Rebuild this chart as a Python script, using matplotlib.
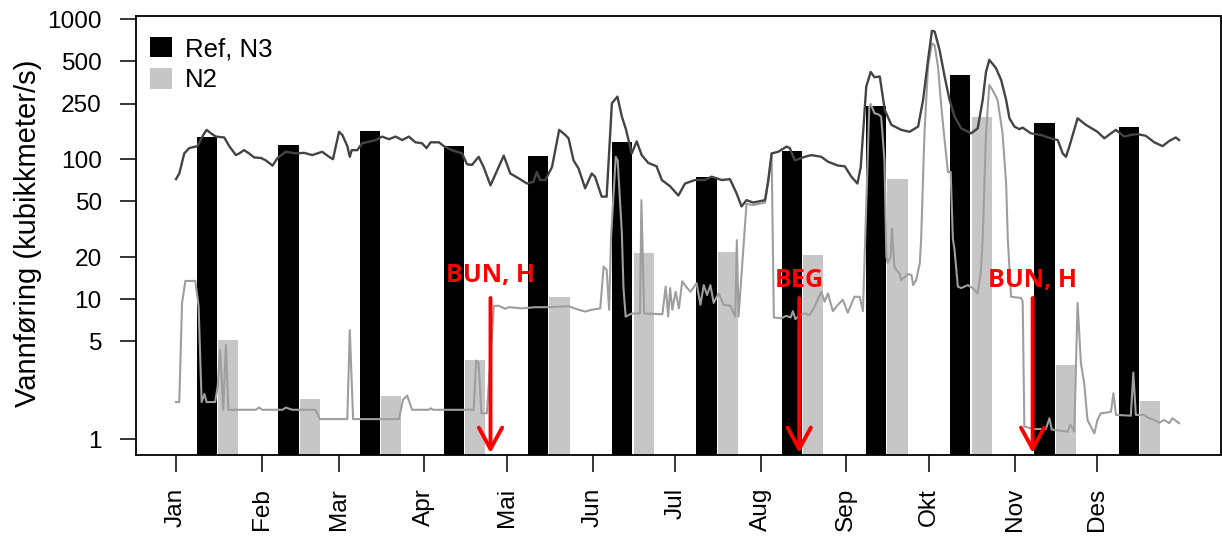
import numpy as np
import matplotlib
matplotlib.use("Agg")
import matplotlib.pyplot as plt
from matplotlib.patches import Patch

plt.rcParams["font.family"] = ["Liberation Sans", "DejaVu Sans"]

# ---------------- data ----------------
months = ["Jan", "Feb", "Mar", "Apr", "Mai", "Jun", "Jul", "Aug", "Sep", "Okt", "Nov", "Des"]
month_start = [1, 32, 60, 91, 121, 152, 182, 213, 244, 274, 305, 335, 366]

ref_n3_monthly = [143, 126, 159, 124, 106, 132, 75, 115, 240, 398, 181, 170]
n2_monthly = [5.04, 1.85, 1.94, 3.55, 10.2, 21.1, 21.8, 20.7, 72.3, 200, 3.27, 1.76]

ref_days = [1, 2.2, 4, 5.8, 8.8, 10.9, 12.1, 13.7, 15.5, 18.5, 20.3, 22.7, 23.9, 25.7, 27.5,
            29.3, 31.8, 33.6, 36, 37.8, 40.8, 44.4, 47.4, 50.4, 54, 56.5, 57.9, 60.1, 61.3,
            63.1, 64, 64.7, 66.7, 68.5, 73.4, 75.7, 78.2, 80.6, 83, 85.4, 87.8, 90.2, 91.8,
            93.3, 96.3, 98.1, 101, 104.7, 106.5, 108.3, 110.7, 112.5, 115, 118, 119.8, 122.2,
            125.2, 128.2, 130.6, 131.8, 133, 134.9, 137.3, 139.9, 142.1, 143.3, 145.1, 146.9,
            149.3, 151.7, 152.9, 155.3, 157.1, 159, 161, 162.6, 164, 166.2, 168, 169.8, 172.2,
            175.2, 177.1, 180.1, 183.1, 185.5, 189.1, 192.7, 195.1, 198.8, 201.8, 204.2, 206,
            207.8, 210.2, 214.5, 215.7, 216.9, 219.3, 222.3, 223.5, 225.3, 228.9, 231.3, 234.9,
            237.3, 241, 243.4, 245.8, 248, 249.2, 251.2, 252.8, 254.2, 256.1, 257.9, 260.3,
            263.9, 266.9, 270, 271.8, 273.6, 275, 276, 277.8, 279.6, 281.4, 283.2, 285.6,
            289.2, 291.6, 293.4, 294.6, 295.8, 298.2, 300.1, 301.9, 303.1, 304.9, 306.7, 307.9,
            310.9, 314.5, 318.1, 320.6, 322.4, 323.6, 324.8, 327.8, 330.8, 335, 337.5, 339.9,
            341.7, 344.7, 347.1, 349.5, 352.5, 355.6, 358.6, 361, 363.4, 364.6]
ref_flow = [72, 79, 110, 120, 124, 149, 162, 153, 145, 143, 124, 107, 110, 116, 110,
            103, 102, 98, 90, 102, 113, 110, 111, 107, 113, 104, 100, 157, 149,
            124, 104, 116, 116, 130, 137, 145, 139, 145, 137, 145, 132, 130, 120,
            132, 132, 124, 116, 110, 92, 91, 104, 88, 65, 88, 106, 79,
            73, 67, 69, 81, 71, 71, 88, 162, 149, 141, 98, 86,
            62, 79, 75, 54, 54, 251, 280, 202, 166, 110, 134, 107, 94,
            89, 71, 64, 55, 67, 71, 71, 75, 71, 72, 57, 46,
            51, 49, 51, 71, 110, 113, 123, 120, 98, 104, 107, 104,
            96, 90, 89, 75, 67, 88, 330, 420, 385, 390, 225, 176,
            162, 157, 171, 265, 513, 826, 816, 600, 390, 265, 202, 166,
            153, 166, 265, 420, 513, 448, 368, 265, 196, 171, 164, 168,
            153, 149, 141, 137, 110, 104, 123, 196, 176, 157, 141, 153,
            162, 145, 149, 151, 147, 132, 124, 135, 143, 137]

n2_days = [1, 2.2, 3.2, 4.4, 8, 9.2, 10.3, 11.3, 12.1, 15.2, 16.1, 17, 18.1, 19.1, 20,
           29.9, 31.1, 32.3, 39.6, 40.8, 43.2, 51.6, 53.1, 63.1, 64, 65.2, 81.8, 83.3, 84.8,
           86.6, 92.6, 93.3, 94.1, 108.9, 109.8, 110.7, 111.7, 113.7, 116.2, 118, 120.4, 121.6,
           126.4, 131.2, 136.1, 143.3, 146.9, 149.3, 151.7, 154.8, 156, 157.1, 158, 158.7,
           160.4, 161.1, 162.6, 163.2, 164, 166.2, 169.2, 169.7, 170.7, 177.3, 178.5, 179.4,
           180.1, 180.9, 182.1, 183.3, 184.5, 186.3, 187.5, 189.7, 191.1, 192.3, 193.5, 194.7,
           195.9, 197.7, 199.5, 201.9, 203.7, 204.3, 204.9, 207.8, 210.2, 214.5, 215.7, 216.9,
           217.7, 220.4, 222.2, 223.8, 224.6, 225.5, 227.1, 228.9, 230.7, 232.5, 234.9, 236.1,
           237.3, 239.1, 240.9, 242.7, 244.5, 246.9, 248.8, 250, 252.3, 252.8, 254.2, 255.4,
           256.6, 257.8, 258.5, 259, 260, 260.5, 261.4, 262.1, 263.2, 263.9, 266.3, 267.6,
           268.2, 269.3, 270.6, 271.1, 272.3, 273.6, 275, 276, 277.2, 278.4, 279.6, 280.8,
           281.8, 282.6, 283.2, 284.4, 285.6, 288, 289.8, 291.6, 292.8, 293.4, 294.6, 295.8,
           297, 298.8, 300.6, 301.9, 302.5, 303.7, 307.3, 307.9, 308.5, 312.1, 316.3, 317.6,
           318.4, 324.2, 325.2, 326.6, 327.8, 329, 330.2, 331.4, 332.6, 333.9, 335, 336.2,
           338.6, 339.9, 340.8, 341.7, 347.1, 348, 348.9, 351.9, 353.7, 355.6, 357.4, 359.2,
           361, 362.2, 364.6]
n2_flow = [1.84, 1.84, 9.4, 13.5, 13.5, 8.9, 1.84, 2.1, 1.84, 1.84, 2.37, 4.34, 1.62, 4.7, 1.62,
           1.62, 1.68, 1.62, 1.62, 1.68, 1.62, 1.62, 1.39, 1.39, 6.0, 1.39, 1.39, 1.91, 2.05,
           1.62, 1.62, 1.66, 1.62, 1.62, 3.64, 3.49, 1.53, 1.53, 8.96, 8.96, 8.53, 8.76,
           8.6, 8.76, 8.76, 8.9, 8.4, 8.16, 8.4, 8.6, 17.1, 16.2, 8.4, 28,
           104, 98, 30, 12, 7.5, 7.9, 7.9, 51, 7.9, 7.8, 12.3, 7.5,
           12, 8.4, 11.3, 8.6, 13.4, 12, 11.3, 13, 9.1, 12.6, 10.7, 12.6,
           9.4, 11, 9.1, 9, 7.5, 26.4, 7.5, 48, 47, 49, 70, 108,
           7.4, 7.3, 7.6, 7.4, 8.2, 7.2, 7.7, 7.9, 7.7, 8.9, 11.3, 9.6,
           11, 8.2, 9.1, 9.9, 8.0, 10.4, 10.4, 8.2, 237, 248, 213, 210,
           202, 98, 20, 18.1, 20, 32, 17.1, 16.2, 15.3, 13.7, 15.1, 14.9,
           12.6, 13.7, 18.1, 27, 153, 460, 673, 650, 460, 237, 137, 81,
           81, 27, 22.5, 12.3, 12, 12.6, 12, 11, 16.2, 27, 153, 340,
           312, 265, 153, 67, 27, 10.4, 10.2, 9.6, 1.23, 1.18, 1.18, 1.41,
           1.17, 1.13, 1.27, 1.13, 9.4, 3.49, 2.5, 1.37, 1.23, 1.1, 1.37, 1.53,
           1.55, 1.57, 2.13, 1.49, 1.47, 2.99, 1.49, 1.49, 1.41, 1.37, 1.31, 1.37,
           1.30, 1.41, 1.30]

event_days = [115, 226.9, 311.5]
event_labels = ["BUN, H", "BEG", "BUN, H"]
event_label_y = [14.7, 13.6, 13.6]

yticks = [1, 5, 10, 20, 50, 100, 250, 500, 1000]

# ---------------- plot ----------------
W, H, DPI = 1222, 536, 100
fig = plt.figure(figsize=(W / DPI, H / DPI), dpi=DPI)
ax = fig.add_axes([135.7 / W, 1 - 455 / H, (1220.5 - 135.7) / W, (455 - 15.7) / H])

FS = 17.6

starts = np.array(month_start, dtype=float)
mids = (starts[:-1] + starts[1:] - 1) / 2
bw = 7.3
ax.bar(mids - 3.7, ref_n3_monthly, width=bw, bottom=0.1, color="black", linewidth=0, zorder=1)
ax.bar(mids + 4.0, n2_monthly, width=bw, bottom=0.1, color="#c6c6c6", linewidth=0, zorder=1)

ax.plot(ref_days, ref_flow, color="#444444", lw=1.7, zorder=3)
ax.plot(n2_days, n2_flow, color="#9e9e9e", lw=1.5, zorder=2)

for d, lab, ly in zip(event_days, event_labels, event_label_y):
    ax.annotate("", xy=(d, 0.795), xytext=(d, 10.2),
                arrowprops=dict(arrowstyle="->,head_length=0.55,head_width=0.3",
                                color="red", lw=2.8,
                                mutation_scale=28, shrinkA=0, shrinkB=0),
                zorder=5)
    ax.text(d, ly, lab, color="red", fontsize=18, fontweight="bold",
            family=["Open Sans", "DejaVu Sans"], ha="center", va="center", zorder=6)

ax.set_yscale("log")
ax.set_ylim(0.77, 1060)
ax.set_xlim(-13.6, 379.6)

ax.set_yticks(yticks)
ax.set_yticklabels([str(v) for v in yticks], fontsize=FS)
ax.yaxis.set_minor_locator(matplotlib.ticker.NullLocator())
ax.set_xticks(month_start[:-1])
ax.set_xticklabels(months, rotation=90, fontsize=FS)
ax.tick_params(axis="y", length=11.5, width=1.1, pad=13, colors="black")
ax.tick_params(axis="x", length=12.2, width=1.1, pad=11.5, colors="black")

for s in ax.spines.values():
    s.set_linewidth(1.3)

ax.set_ylabel("Vannføring (kubikkmeter/s)", fontsize=21)
ax.yaxis.set_label_coords(-0.0864, 0.505)

handles = [Patch(facecolor="black", edgecolor="none", label="Ref, N3"),
           Patch(facecolor="#c6c6c6", edgecolor="none", label="N2")]
ax.legend(handles=handles, loc="upper left", bbox_to_anchor=(0.013, 0.952),
          frameon=False, fontsize=18.5, handlelength=0.86, handleheight=0.86,
          handletextpad=0.5, labelspacing=0.28, borderpad=0, borderaxespad=0)

fig.savefig("out.png", dpi=DPI)
